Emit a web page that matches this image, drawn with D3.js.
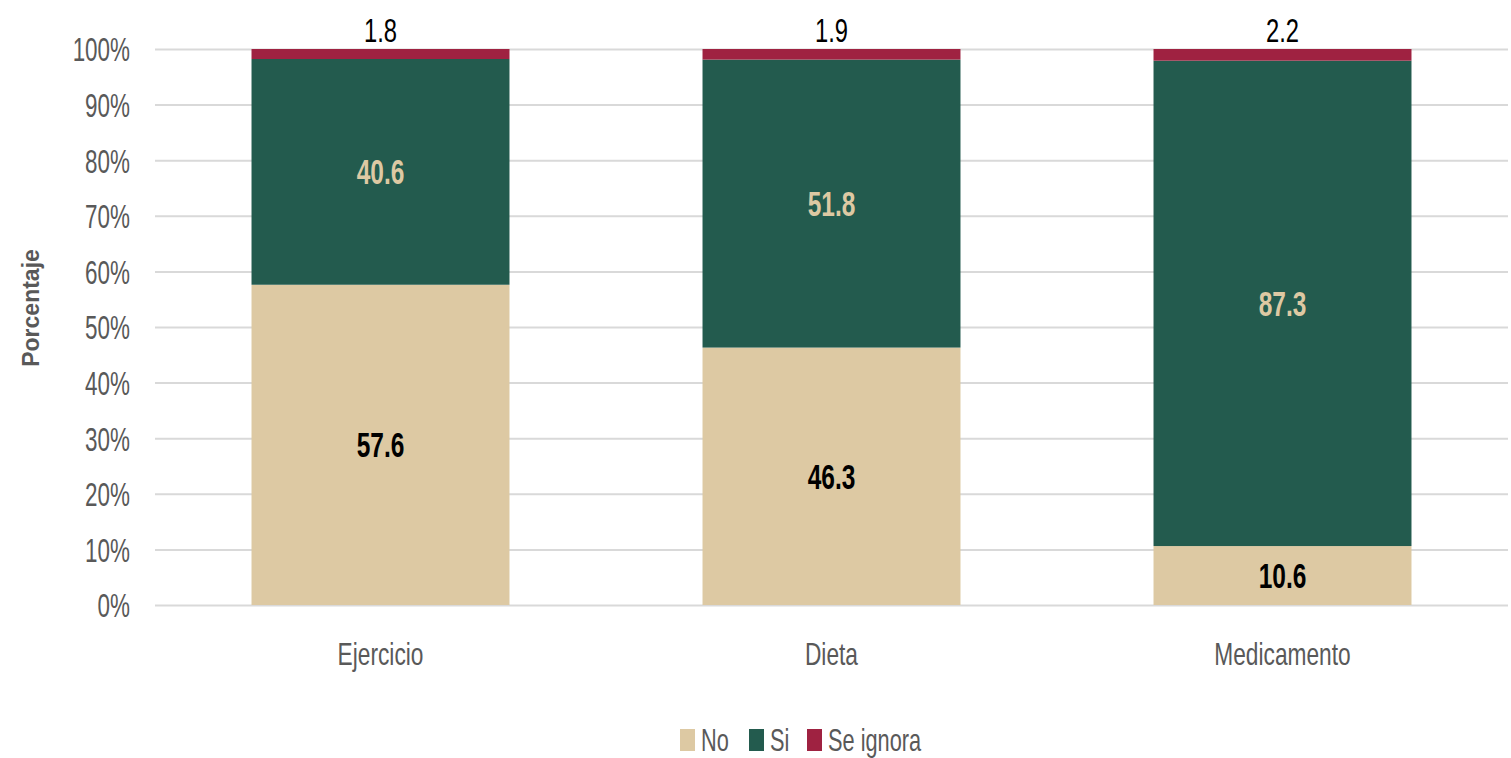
<!DOCTYPE html>
<html>
<head>
<meta charset="utf-8">
<script src="https://cdn.jsdelivr.net/npm/d3@7"></script>
<style>
    body { margin: 0; background: #fff; }
    text { font-family: "Liberation Sans", Arial, sans-serif; }
</style>
</head>
<body>
<svg id="chart" width="1511" height="758"></svg>
<script>
'use strict';

// data
var categories = ["Ejercicio", "Dieta", "Medicamento"];
var seriesNames = ["No", "Si", "Se ignora"];
var noValues = [57.6, 46.3, 10.6];
var siValues = [40.6, 51.8, 87.3];
var ignoraValues = [1.8, 1.9, 2.2];
var yTicks = [0, 10, 20, 30, 40, 50, 60, 70, 80, 90, 100];

var colors = {
    "No":        "#ddc9a3",
    "Si":        "#235b4e",
    "Se ignora": "#9f2241"
};
var labelColors = {
    "No":        "#000",
    "Si":        "#ddc9a3",
    "Se ignora": "#000"
};

// the original font is a narrow one, squeeze text horizontally
var SX = 0.7;
function narrow(sel, sx) {
    sel.each(function() {
        var t = d3.select(this),
            x = +t.attr("x") || 0;
        t.attr("x", x / sx).attr("transform", "scale(" + sx + ",1)");
    });
}

var svg    = d3.select("#chart"),
    margin = {left: 155, right: 3, top: 49, bottom: 153},
    width  = 1511 - margin.left - margin.right,
    height = 758 - margin.top - margin.bottom;

var rows = categories.map(function(c, i) {
    return {cat: c, "No": noValues[i], "Si": siValues[i], "Se ignora": ignoraValues[i]};
});
var stacked = d3.stack().keys(seriesNames)(rows);

var x = d3.scaleBand()
    .domain(categories)
    .range([margin.left, margin.left + width])
    .paddingInner(0.428)
    .paddingOuter(0.214);

var y = d3.scaleLinear()
    .domain([0, 100])
    .range([margin.top + height, margin.top]);

// gridlines + y tick labels
var yAxis = d3.axisLeft(y)
    .tickValues(yTicks)
    .tickSize(-width)
    .tickPadding(25)
    .tickFormat(function(d){ return d + "%"; });

var gy = svg.append("g")
    .attr("transform", "translate(" + margin.left + ",0)")
    .call(yAxis);
gy.select(".domain").remove();
gy.selectAll(".tick line").attr("stroke", "#d9d9d9").attr("stroke-width", 2);
gy.selectAll(".tick text")
    .attr("fill", "#595959")
    .style("font-size", "33px")
    .attr("dy", "0.36em")
    .call(narrow, 0.68);

// bars
var layers = svg.append("g").selectAll("g")
    .data(stacked)
    .join("g")
        .attr("fill", function(s){ return colors[s.key]; });

layers.selectAll("rect")
    .data(function(s){ return s; })
    .join("rect")
        .attr("x", function(d){ return x(d.data.cat); })
        .attr("width", x.bandwidth())
        .attr("y", function(d){ return y(Math.min(d[1], 100)); })
        .attr("height", function(d){ return y(d[0]) - y(Math.min(d[1], 100)); });

// value labels
layers.each(function(s) {
    var g = d3.select(this),
        top = s.key == "Se ignora";
    g.selectAll("text")
        .data(s)
        .join("text")
            .attr("x", function(d){ return x(d.data.cat) + x.bandwidth() / 2; })
            .attr("y", function(d){ return top ? y(100) - 7 : y((d[0] + d[1]) / 2); })
            .attr("dy", top ? "0" : "0.36em")
            .attr("text-anchor", "middle")
            .attr("fill", labelColors[s.key])
            .style("font-size", top ? "33px" : "35px")
            .style("font-weight", top ? "normal" : "bold")
            .text(function(d){ return d.data[s.key].toFixed(1); })
            .call(narrow, top ? 0.72 : SX);
});

// category labels
svg.append("g").selectAll("text")
    .data(categories)
    .join("text")
        .attr("x", function(c){ return x(c) + x.bandwidth() / 2; })
        .attr("y", 665)
        .attr("text-anchor", "middle")
        .attr("fill", "#595959")
        .style("font-size", "32px")
        .text(function(c){ return c; })
        .call(narrow, 0.71);

// y axis title
svg.append("text")
    .attr("transform", "translate(39,308) rotate(-90)")
    .attr("text-anchor", "middle")
    .attr("fill", "#595959")
    .style("font-weight", "bold")
    .style("font-size", "23px")
    .text("Porcentaje");

// legend
var legendX = [680, 749, 807];
var legend = svg.append("g").selectAll("g")
    .data(seriesNames)
    .join("g")
        .attr("transform", function(d, i){ return "translate(" + legendX[i] + ",729)"; });
legend.append("rect")
    .attr("width", 15)
    .attr("height", 22)
    .attr("fill", function(d){ return colors[d]; });
legend.append("text")
    .attr("x", 21)
    .attr("y", 22)
    .attr("fill", "#595959")
    .style("font-size", "32px")
    .text(function(d){ return d; })
    .call(narrow, 0.68);
</script>
</body>
</html>
